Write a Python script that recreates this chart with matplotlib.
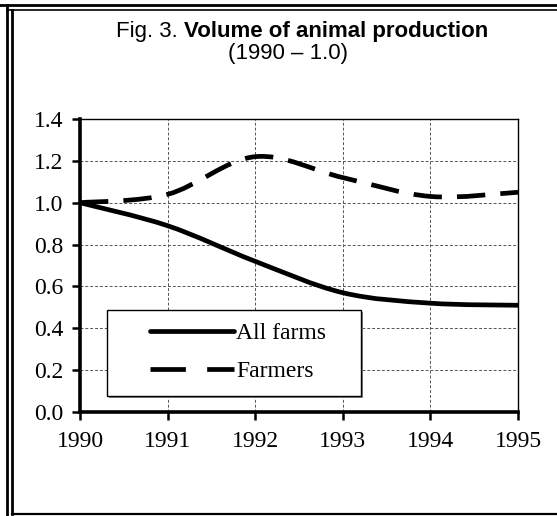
import matplotlib
matplotlib.use("Agg")
import matplotlib.pyplot as plt
from matplotlib.path import Path
from matplotlib.patches import PathPatch, Rectangle
from matplotlib.lines import Line2D
import numpy as np

years = [1990, 1991, 1992, 1993, 1994, 1995]
all_farms = [1.00, 0.89, 0.72, 0.57, 0.52, 0.51]
farmers = [1.00, 1.04, 1.22, 1.12, 1.03, 1.05]
labels = ["All farms", "Farmers"]
yticks = [0.0, 0.2, 0.4, 0.6, 0.8, 1.0, 1.2, 1.4]

W, H = 557, 516


def smooth_path(x, y):
    # excel-like smoothed line: bezier segments with catmull-rom control points
    x = np.asarray(x, float)
    y = np.asarray(y, float)
    n = len(x)
    verts = [(x[0], y[0])]
    codes = [Path.MOVETO]
    for i in range(n - 1):
        p0 = (x[max(i - 1, 0)], y[max(i - 1, 0)])
        p1 = (x[i], y[i])
        p2 = (x[i + 1], y[i + 1])
        p3 = (x[min(i + 2, n - 1)], y[min(i + 2, n - 1)])
        c1 = (p1[0] + (p2[0] - p0[0]) / 6, p1[1] + (p2[1] - p0[1]) / 6)
        c2 = (p2[0] - (p3[0] - p1[0]) / 6, p2[1] - (p3[1] - p1[1]) / 6)
        verts += [c1, c2, p2]
        codes += [Path.CURVE4] * 3
    return Path(verts, codes)


fig = plt.figure(figsize=(W / 100, H / 100), dpi=100)
ax = fig.add_axes([80 / W, 1 - 412 / H, 438 / W, 293 / H])

serif = "Liberation Serif"
sans = "Liberation Sans"

ax.add_patch(PathPatch(smooth_path(years, all_farms), fill=False,
                       edgecolor="black", lw=3.4, capstyle="butt", zorder=4))
ax.add_patch(PathPatch(smooth_path(years, farmers), fill=False,
                       edgecolor="black", lw=3.4, linestyle=(0, (6, 3.2)),
                       capstyle="butt", zorder=4))

ax.set_xlim(1990, 1995)
ax.set_ylim(0, 1.4)
ax.set_xticks(years)
ax.set_yticks(yticks)
ax.set_xticklabels([str(v) for v in years], fontfamily=serif, fontsize=17)
ax.set_yticklabels(["%.1f" % v for v in yticks], fontfamily=serif, fontsize=17)
ax.tick_params(axis="both", direction="out", length=6, width=1.8, color="black")
ax.tick_params(axis="x", pad=8)
ax.tick_params(axis="y", pad=6)
ax.grid(True, color="#555555", linestyle=(0, (3, 2)), linewidth=0.7)
ax.set_axisbelow(True)
for s in ["left", "bottom"]:
    ax.spines[s].set_linewidth(2.6)
for s in ["top", "right"]:
    ax.spines[s].set_linewidth(1.0)

# legend box
box = Rectangle((107 / W, 1 - 396 / H), 254 / W, 86 / H, transform=fig.transFigure,
                facecolor="white", edgecolor="black", lw=1.0, zorder=5)
fig.add_artist(box)
shadow = Rectangle((108.5 / W, 1 - 397.5 / H), 254 / W, 86 / H, transform=fig.transFigure,
                   facecolor="#888888", edgecolor="none", zorder=4.9)
fig.add_artist(shadow)

handles = [Line2D([], [], color="black", lw=3.4, solid_capstyle="round"),
           Line2D([], [], color="black", lw=3.4, linestyle=(0, (7.5, 4.5)))]
leg = fig.legend(handles, labels, loc="upper left",
                 bbox_to_anchor=(129 / W, 1 - 301 / H), frameon=False,
                 handlelength=3.55, handletextpad=0.1, labelspacing=0.7,
                 prop={"family": serif, "size": 17})
leg.set_zorder(6)

# title
t1 = fig.text(116 / W, 1 - 31 / H, "Fig. 3. ", fontfamily=sans, fontsize=16,
              ha="left", va="center")
fig.canvas.draw()
bb = t1.get_window_extent()
fig.text(bb.x1 / W, 1 - 31 / H, "Volume of animal production", fontfamily=sans,
         fontsize=16, fontweight="bold", ha="left", va="center")
fig.text(288 / W, 1 - 54 / H, "(1990 \u2013 1.0)", fontfamily=sans, fontsize=16,
         ha="center", va="center")

# double frame around the figure
frame = [((0, W), (H - 5, H - 5), 2.0),
         ((7, W), (H - 10, H - 10), 1.2),
         ((7, 7), (0, H - 5), 2.0),
         ((11.5, 11.5), (2, H - 10), 2.0),
         ((11.5, W), (2, 2), 1.6)]
for xs, ys, lw in frame:
    fig.add_artist(Line2D([xs[0] / W, xs[1] / W], [ys[0] / H, ys[1] / H],
                          transform=fig.transFigure, color="black", lw=lw))

fig.savefig("out.png", dpi=100)
